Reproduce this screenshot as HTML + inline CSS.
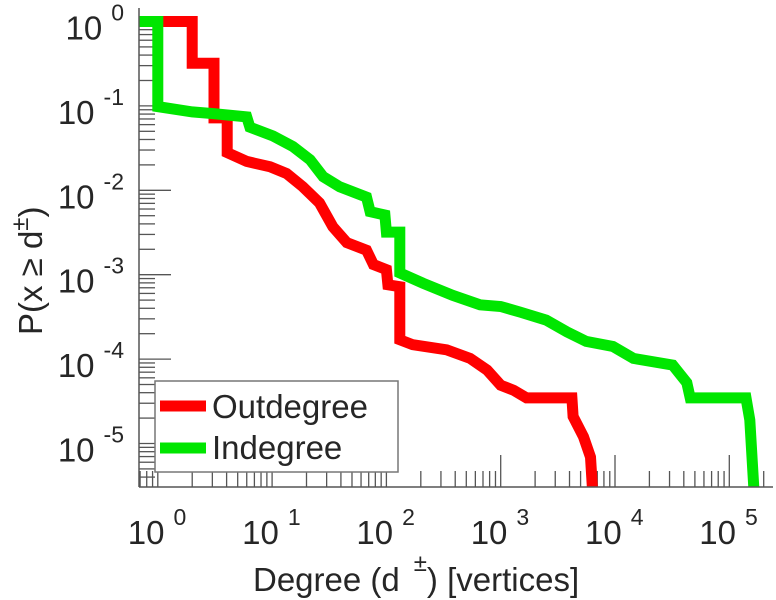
<!DOCTYPE html>
<html><head><meta charset="utf-8"><style>
html,body{margin:0;padding:0;background:#fff;}
svg{display:block;font-family:"Liberation Sans",sans-serif;}
</style></head><body>
<svg id="chart" width="776" height="600" viewBox="0 0 776 600" xmlns="http://www.w3.org/2000/svg">
<defs><clipPath id="plotclip"><rect x="139" y="0" width="637" height="487"/></clipPath></defs>
<g id="ticks"></g>
<g id="series" clip-path="url(#plotclip)"></g>
<line x1="139" y1="8" x2="139" y2="487" stroke="#555" stroke-width="1.5"/>
<line x1="139" y1="487" x2="773" y2="487" stroke="#555" stroke-width="1.5"/>
<g id="labels" fill="#262626"></g>
<text x="253" y="591" font-size="33" fill="#262626">Degree (d<tspan font-size="24" dx="14" dy="-20">±</tspan><tspan dy="20">) [vertices]</tspan></text>
<text transform="translate(42,335) rotate(-90)" font-size="33" fill="#262626">P(x ≥ d<tspan font-size="24" dy="-14">±</tspan><tspan dy="14">)</tspan></text>
<g>
<rect x="155" y="381" width="243" height="91" fill="#fff" stroke="#777" stroke-width="1.5"/>
<line x1="160" y1="406" x2="206" y2="406" stroke="#ff0000" stroke-width="11"/>
<text x="212" y="418" font-size="33" fill="#262626">Outdegree</text>
<line x1="160" y1="448" x2="206" y2="448" stroke="#00e600" stroke-width="11"/>
<text x="212" y="459" font-size="33" fill="#262626">Indegree</text>
</g>
</svg>
<script>
const xTickExponents = [0, 1, 2, 3, 4, 5];
const yTickExponents = [0, -1, -2, -3, -4, -5];
const outDegree = [1, 1, 2, 2, 3.1, 3.1, 4.05, 4.05, 6, 9.6, 13.4, 18.6, 26, 34, 45, 67, 77, 100, 103, 131, 131, 170, 337, 540, 760, 1000, 1300, 1680, 4200, 4300, 5300, 6100, 6400];
const outProb = [1, 1, 1, 0.32, 0.32, 0.072, 0.072, 0.028, 0.022, 0.019, 0.0158, 0.011, 0.0071, 0.0037, 0.0024, 0.00195, 0.00132, 0.00115, 0.00076, 0.00072, 0.00017, 0.000148, 0.000129, 0.000102, 0.000074, 0.000049, 0.0000427, 0.0000347, 0.0000347, 0.0000209, 0.000012, 0.0000069, 0.0000025];
const inDegree = [0.6, 1, 1, 2, 3.06, 6, 6.4, 10.2, 15.2, 21.5, 28, 39, 67, 72, 97, 100, 127, 131, 131, 210, 380, 660, 1000, 1480, 2500, 3800, 5600, 9600, 14500, 32000, 42500, 45500, 140000, 151000, 165000];
const inProb = [1, 1, 0.098, 0.085, 0.081, 0.074, 0.056, 0.044, 0.033, 0.023, 0.0145, 0.011, 0.0083, 0.0056, 0.0051, 0.0032, 0.0032, 0.0032, 0.00105, 0.00079, 0.00057, 0.00044, 0.00042, 0.00036, 0.00029, 0.00021, 0.000162, 0.000141, 0.000102, 0.000085, 0.0000525, 0.0000347, 0.0000347, 0.000019, 0.0000025];

const NS = "http://www.w3.org/2000/svg";
const X0 = 157.8, XD = 114.3, Y0 = 21.5, YD = 84.4, BOTTOM = 487, LEFT = 139, RIGHT = 773, TOP = 8;
function xs(d){ return X0 + XD * Math.log10(d); }
function ys(p){ return Y0 - YD * Math.log10(p); }
function mk(tag, attrs, parent){ const e = document.createElementNS(NS, tag); for (const k in attrs) e.setAttribute(k, attrs[k]); parent.appendChild(e); return e; }

const ticks = document.getElementById('ticks');
const labels = document.getElementById('labels');
for (let e = -1; e <= 5; e++) {
  for (let m = 1; m <= 9; m++) {
    const x = xs(m * Math.pow(10, e));
    if (x < LEFT || x > RIGHT) continue;
    const len = m === 1 ? 32 : 16;
    const t = mk('line', {x1: x, y1: BOTTOM, x2: x, y2: BOTTOM - len, stroke: '#555', 'stroke-width': 1.3}, ticks);
    
    
  }
}
for (let e = -6; e <= 0; e++) {
  for (let m = 1; m <= 9; m++) {
    const y = ys(m * Math.pow(10, e));
    if (y < TOP || y > BOTTOM) continue;
    const len = m === 1 ? 32 : 16;
    const t = mk('line', {x1: LEFT, y1: y, x2: LEFT + len, y2: y, stroke: '#555', 'stroke-width': 1.3}, ticks);
    
    
  }
}
xTickExponents.forEach(e => {
  const x = xs(Math.pow(10, e));
  const t = mk('text', {x: x - 30, y: 544, 'font-size': 33}, labels);
  
  
  t.innerHTML = '10<tspan font-size="23" dx="9" dy="-19">' + e + '</tspan>';
});
yTickExponents.forEach(e => {
  const y = ys(Math.pow(10, e));
  const t = mk('text', {x: 124, y: y + 18, 'font-size': 33, 'text-anchor': 'end'}, labels);
  
  
  t.innerHTML = '10<tspan font-size="23" dx="9" dy="-19">' + (e === 0 ? '0' : e) + '</tspan>';
});
const series = document.getElementById('series');
function drawSeries(dx, py, color, name){
  const pts = dx.map((d, i) => xs(d).toFixed(1) + ',' + ys(py[i]).toFixed(1)).join(' ');
  const p = mk('polyline', {points: pts, fill: 'none', stroke: color, 'stroke-width': 11, 'stroke-linejoin': 'miter', 'stroke-miterlimit': 4}, series);
  
  
}
drawSeries(outDegree, outProb, '#ff0000', 'outdegree-line');
drawSeries(inDegree, inProb, '#00e600', 'indegree-line');
</script>
</body></html>
